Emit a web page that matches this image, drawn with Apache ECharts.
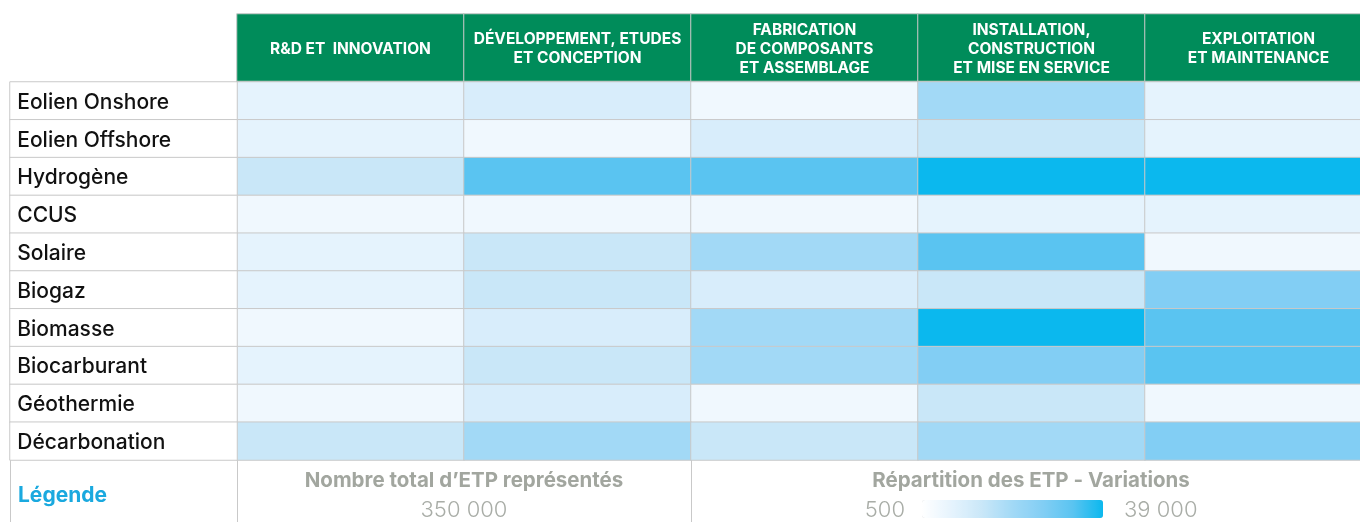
<!DOCTYPE html>
<html>
<head>
<meta charset="utf-8">
<script src="https://cdn.jsdelivr.net/npm/echarts@6/dist/echarts.min.js"></script>
<style>
  html, body { margin: 0; padding: 0; background: #fff; overflow: hidden; }
  /* the table runs past the right edge of the picture, like the original */
  #chart { width: 1372px; height: 522px; }
</style>
</head>
<body>
<div id="chart"></div>
<script>
// filières (rows) and chaîne de valeur (columns)
const rowLabels = [
  'Eolien Onshore', 'Eolien Offshore', 'Hydrogène', 'CCUS', 'Solaire',
  'Biogaz', 'Biomasse', 'Biocarburant', 'Géothermie', 'Décarbonation'
]
const columnLabels = [
  'R&D ET  INNOVATION',
  'DÉVELOPPEMENT, ETUDES\nET CONCEPTION',
  'FABRICATION\nDE COMPOSANTS\nET ASSEMBLAGE',
  'INSTALLATION,\nCONSTRUCTION\nET MISE EN SERVICE',
  'EXPLOITATION\nET MAINTENANCE'
]
// ETP per cell, estimated from the colour shade
const etpValues = [
  [6900, 9900, 4300, 19800, 6900],
  [6900, 4300, 9900, 13300, 6900],
  [13300, 32600, 32600, 39000, 39000],
  [4300, 4300, 4300, 6900, 6900],
  [6900, 13300, 19800, 32600, 4300],
  [6900, 13300, 9900, 13300, 26200],
  [4300, 9900, 19800, 39000, 32600],
  [6900, 13300, 19800, 26200, 32600],
  [4300, 9900, 4300, 13300, 4300],
  [13300, 19800, 13300, 19800, 26200]
]
const scaleMin = 500
const scaleMax = 39000
const totalEtp = '350 000'

const FONT = 'Inter'
const BORDER = '#c9c9c9'
const GREY_TEXT = '#a2a69f'
const NUM_TEXT = '#a9ada7'

const xCats = [''].concat(columnLabels)

const cellData = []
etpValues.forEach((row, r) => {
  row.forEach((v, c) => cellData.push([columnLabels[c], rowLabels[r], v]))
})
const labelData = rowLabels.map(name => ['', name, 0])
const headerData = columnLabels.map(name => [name, 'header', 0])

const chart = echarts.init(document.getElementById('chart'))

const hiddenAxis = {
  axisLine: { show: false },
  axisTick: { show: false },
  axisLabel: { show: false },
  splitLine: { show: false }
}

chart.setOption({
  animation: false,
  backgroundColor: '#fff',
  textStyle: { fontFamily: FONT },
  grid: [
    { left: 10, top: 82, width: 1362, height: 378 },
    { left: 10, top: 14, width: 1362, height: 67 }
  ],
  xAxis: [
    { type: 'category', data: xCats, gridIndex: 0, ...hiddenAxis },
    { type: 'category', data: xCats, gridIndex: 1, ...hiddenAxis }
  ],
  yAxis: [
    { type: 'category', data: rowLabels, inverse: true, gridIndex: 0, ...hiddenAxis },
    { type: 'category', data: ['header'], gridIndex: 1, ...hiddenAxis }
  ],
  visualMap: {
    type: 'continuous',
    seriesIndex: 0,
    min: scaleMin,
    max: scaleMax,
    orient: 'horizontal',
    left: 922,
    top: 500,
    padding: 0,
    itemWidth: 18,
    itemHeight: 181,
    text: null,
    showLabel: false,
    calculable: false,
    inRange: {
      color: ['#ffffff', '#e5f3fd', '#c9e7f8', '#a2d9f6', '#82cef4', '#5ac4f1', '#0bb8ee']
    }
  },
  series: [
    {
      type: 'heatmap',
      xAxisIndex: 0,
      yAxisIndex: 0,
      data: cellData,
      itemStyle: { borderColor: BORDER, borderWidth: 1 },
      emphasis: { disabled: true }
    },
    {
      type: 'heatmap',
      xAxisIndex: 0,
      yAxisIndex: 0,
      data: labelData,
      itemStyle: { color: '#fff', borderColor: BORDER, borderWidth: 1 },
      label: {
        show: true,
        position: [8, '50%'],
        offset: [0, 1.5],
        align: 'left',
        verticalAlign: 'middle',
        color: '#111',
        fontFamily: FONT,
        fontSize: 21,
        fontWeight: 500,
        formatter: p => p.data[1]
      },
      emphasis: { disabled: true }
    },
    {
      type: 'heatmap',
      xAxisIndex: 1,
      yAxisIndex: 1,
      data: headerData,
      itemStyle: { color: '#008c5a', borderColor: BORDER, borderWidth: 1 },
      label: {
        show: true,
        offset: [0, 1.5],
        color: '#fff',
        fontFamily: FONT,
        fontSize: 15.5,
        fontWeight: 700,
        lineHeight: 19,
        align: 'center',
        formatter: p => p.data[0]
      },
      emphasis: { disabled: true }
    }
  ],
  graphic: [
    // legend row borders
    { type: 'line', shape: { x1: 10.5, y1: 460, x2: 10.5, y2: 522 }, style: { stroke: BORDER, lineWidth: 1 } },
    { type: 'line', shape: { x1: 237.5, y1: 460, x2: 237.5, y2: 522 }, style: { stroke: BORDER, lineWidth: 1 } },
    { type: 'line', shape: { x1: 691.5, y1: 460, x2: 691.5, y2: 522 }, style: { stroke: BORDER, lineWidth: 1 } },
    {
      type: 'text', x: 18, y: 496,
      style: { text: 'Légende', fill: '#1aa9df', font: `700 21px ${FONT}`, align: 'left', verticalAlign: 'middle' }
    },
    {
      type: 'text', x: 464, y: 481,
      style: { text: 'Nombre total d’ETP représentés', fill: GREY_TEXT, font: `700 20.5px ${FONT}`, align: 'center', verticalAlign: 'middle' }
    },
    {
      type: 'text', x: 464, y: 510,
      style: { text: totalEtp, fill: NUM_TEXT, font: `300 22px ${FONT}`, align: 'center', verticalAlign: 'middle' }
    },
    {
      type: 'text', x: 1031, y: 481,
      style: { text: 'Répartition des ETP - Variations', fill: GREY_TEXT, font: `700 20.5px ${FONT}`, align: 'center', verticalAlign: 'middle' }
    },
    {
      type: 'text', x: 905, y: 510,
      style: { text: String(scaleMin), fill: NUM_TEXT, font: `300 22px ${FONT}`, align: 'right', verticalAlign: 'middle' }
    },
    {
      type: 'text', x: 1124, y: 510,
      style: { text: '39 000', fill: NUM_TEXT, font: `300 22px ${FONT}`, align: 'left', verticalAlign: 'middle' }
    }
  ]
})

window.addEventListener('resize', () => chart.resize())
</script>
</body>
</html>
